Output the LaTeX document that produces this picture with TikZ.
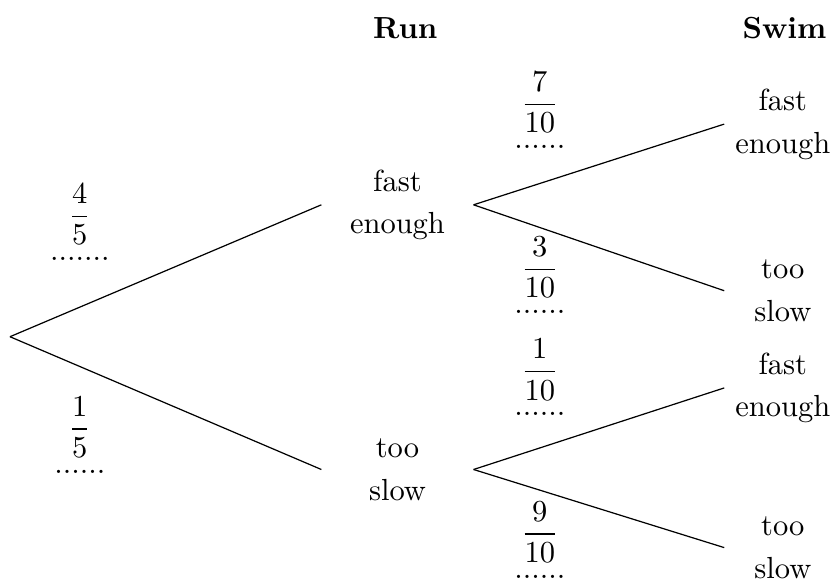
\documentclass[tikz,border=0pt]{standalone}
\usepackage{amsmath}
\usetikzlibrary{positioning}

\begin{document}
\begin{tikzpicture}[
  outcome/.style={align=center, inner sep=0pt, minimum width=49.5pt},
  leaf/.style={align=center, inner sep=0pt, minimum width=38pt},
  prob/.style={align=center, inner sep=1pt},
  head/.style={font=\bfseries}]
\useasboundingbox (0,0) rectangle (9.61,6.75);

\node [head] (run) at (4.67,6.43) {Run};
\node [head] (swim) at (9.04,6.43) {Swim};

\coordinate (start) at (0.115,2.87);
\node [outcome] (runfast) at (4.58,4.39) {fast\\[2pt]enough};
\node [outcome] (runslow) at (4.58,1.34) {too\\[2pt]slow};

\node [leaf] (ff) at (9.02,5.32) {fast\\[2pt]enough};
\node [leaf] (fs) at (9.02,3.40) {too\\[2pt]slow};
\node [leaf] (sf) at (9.02,2.28) {fast\\[2pt]enough};
\node [leaf] (ss) at (9.02,0.44) {too\\[2pt]slow};

\draw (start) -- (runfast.west);
\draw (start) -- (runslow.west);
\draw (runfast.east) -- (ff.west);
\draw (runfast.east) -- (fs.west);
\draw (runslow.east) -- (sf.west);
\draw (runslow.east) -- (ss.west);

\node [prob] (p1) at (0.92,4.19) {$\dfrac{4}{5}$\\.......};
\node [prob] (p2) at (0.92,1.74) {$\dfrac{1}{5}$\\......};
\node [prob] (p11) at (6.22,5.48) {$\dfrac{7}{10}$\\......};
\node [prob] (p12) at (6.22,3.58) {$\dfrac{3}{10}$\\......};
\node [prob] (p21) at (6.22,2.40) {$\dfrac{1}{10}$\\......};
\node [prob] (p22) at (6.22,0.53) {$\dfrac{9}{10}$\\......};

\end{tikzpicture}
\end{document}
